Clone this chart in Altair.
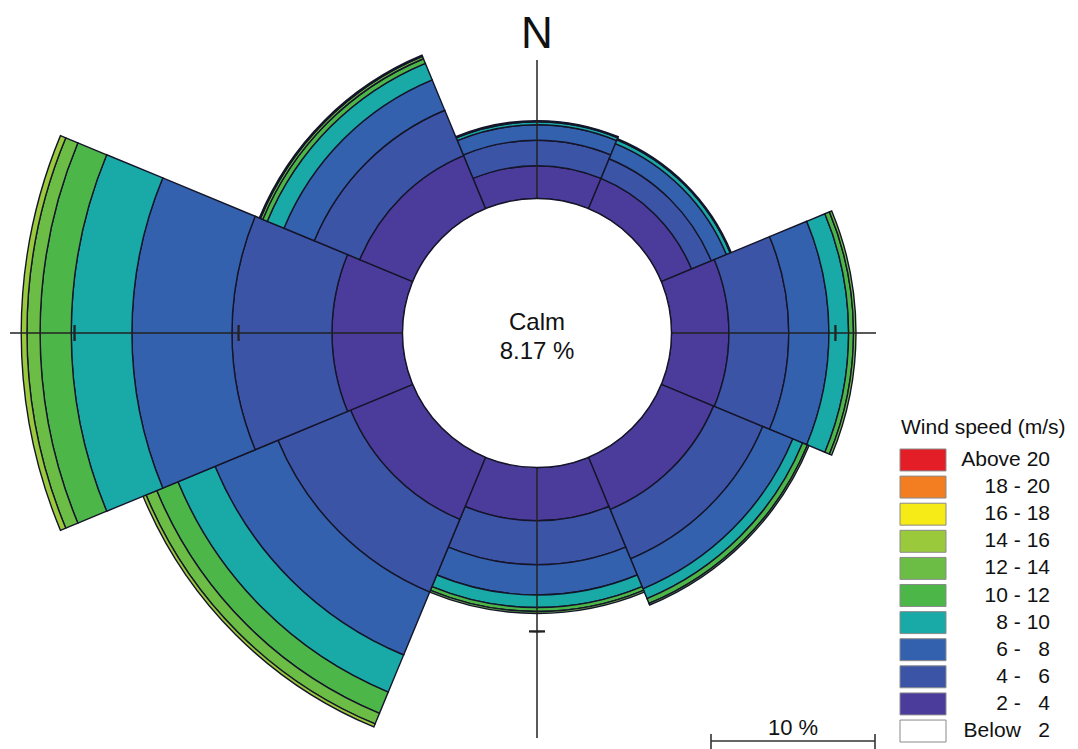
import altair as alt
import pandas as pd
import numpy as np

# ---------------- data ----------------
directions = ["N", "NE", "E", "SE", "S", "SW", "W", "NW"]
dir_angles = [0, 45, 90, 135, 180, 225, 270, 315]

# frequency (%) of each wind-speed class per direction
freq_2_4 = [2.00, 2.00, 3.50, 3.45, 3.25, 4.10, 4.30, 3.50]
freq_4_6 = [1.55, 1.30, 3.65, 3.25, 2.68, 4.80, 6.10, 3.00]
freq_6_8 = [0.95, 1.00, 2.45, 1.98, 1.84, 4.15, 6.10, 2.00]
freq_8_10 = [0.18, 0.25, 1.20, 0.65, 0.77, 2.45, 3.70, 1.10]
freq_10_12 = [0.07, 0.07, 0.30, 0.32, 0.24, 1.40, 1.90, 0.30]
freq_12_14 = [0.00, 0.00, 0.15, 0.10, 0.12, 0.70, 0.80, 0.15]
freq_14_16 = [0.00, 0.00, 0.00, 0.00, 0.00, 0.20, 0.35, 0.08]
freq_16_18 = [0, 0, 0, 0, 0, 0, 0, 0]
freq_18_20 = [0, 0, 0, 0, 0, 0, 0, 0]
freq_above_20 = [0, 0, 0, 0, 0, 0, 0, 0]
calm_pct = 8.17

classes = ["Above 20", "18 - 20", "16 - 18", "14 - 16", "12 - 14", "10 - 12",
           "8 - 10", "6 - 8", "4 - 6", "2 - 4", "Below 2"]
class_labels = ["Above 20", "18 - 20", "16 - 18", "14 - 16", "12 - 14", "10 - 12",
                "8 - 10", "6 -\u00a0\u00a0\u00a08", "4 -\u00a0\u00a0\u00a06",
                "2 -\u00a0\u00a0\u00a04", "Below\u00a0\u00a0\u00a02"]
class_colors = ["#E41E26", "#F37E21", "#F6EB16", "#9ACA3C", "#6BBD45", "#4CB748",
                "#19A9A6", "#3461AE", "#3B54A6", "#4B3C9C", "#FFFFFF"]

tick_dirs = [270, 270, 90, 180]
tick_pcts = [10, 20, 10, 10]

# ---------------- layout constants ----------------
FONT = "Liberation Sans"
CX, CY = 529, 325          # rose centre (plot coords)
R0, K = 134.5, 16.4        # calm radius (px), px per %
EDGE = "#15152a"

bands = [("2 - 4", freq_2_4), ("4 - 6", freq_4_6), ("6 - 8", freq_6_8),
         ("8 - 10", freq_8_10), ("10 - 12", freq_10_12), ("12 - 14", freq_12_14),
         ("14 - 16", freq_14_16), ("16 - 18", freq_16_18), ("18 - 20", freq_18_20),
         ("Above 20", freq_above_20)]

rows = []
for i, (d, a) in enumerate(zip(directions, dir_angles)):
    cum = 0.0
    for cls, vals in bands:
        v = vals[i]
        if v <= 0:
            continue
        rows.append(dict(dir=d, t1=a - 22.5, t2=a + 22.5, r1=cum, r2=cum + v, cls=cls))
        cum += v
df = pd.DataFrame(rows)

trows = []
for a, p in zip(tick_dirs, tick_pcts):
    half = np.degrees(8.0 / (R0 + K * p))
    trows.append(dict(t1=a - half, t2=a + half, r1=p - 0.07, r2=p + 0.07))
tdf = pd.DataFrame(trows)

one = pd.DataFrame({"a": [0]})

theta_scale = alt.Scale(type="linear", domain=[0, 360], range=[0, 2 * np.pi])
r_scale = alt.Scale(type="linear", domain=[0, 25], range=[R0, R0 + 25 * K])
color_scale = alt.Scale(domain=classes, range=class_colors)
yleg_scale = alt.Scale(type="band", domain=classes, range=[441, 734],
                       paddingInner=0.19, paddingOuter=0)

sectors = alt.Chart(df).mark_arc(stroke=EDGE, strokeWidth=1.4).encode(
    x=alt.value(CX), y=alt.value(CY),
    theta=alt.Theta("t1:Q", scale=theta_scale, stack=None),
    theta2="t2:Q",
    radius=alt.Radius("r2:Q", scale=r_scale),
    radius2="r1:Q",
    color=alt.Color("cls:N", scale=color_scale, legend=None),
)

hline = alt.Chart(one).mark_rule(color="#222", strokeWidth=1.5).encode(
    x=alt.value(2), x2=alt.value(868), y=alt.value(CY))
vline = alt.Chart(one).mark_rule(color="#222", strokeWidth=1.5).encode(
    x=alt.value(CX), y=alt.value(52), y2=alt.value(730))

ticks = alt.Chart(tdf).mark_arc(color="#222").encode(
    x=alt.value(CX), y=alt.value(CY),
    theta=alt.Theta("t1:Q", scale=theta_scale, stack=None),
    theta2="t2:Q",
    radius=alt.Radius("r2:Q", scale=r_scale),
    radius2="r1:Q",
)

calm = alt.Chart(one).mark_arc(fill="white", stroke=EDGE, strokeWidth=1.4).encode(
    x=alt.value(CX), y=alt.value(CY),
    theta=alt.value(0), theta2=alt.value(2 * np.pi),
    radius=alt.value(R0), radius2=alt.value(0),
)

calm_t1 = alt.Chart(one).mark_text(text="Calm", font=FONT, fontSize=24, color="#111",
                                   baseline="middle").encode(
    x=alt.value(CX), y=alt.value(CY - 10))
calm_t2 = alt.Chart(one).mark_text(text=f"{calm_pct:.2f} %", font=FONT, fontSize=24,
                                   color="#111", baseline="middle").encode(
    x=alt.value(CX), y=alt.value(CY + 19))
n_text = alt.Chart(one).mark_text(text="N", font=FONT, fontSize=44, color="#111",
                                  baseline="middle").encode(
    x=alt.value(CX), y=alt.value(27))

leg_df = pd.DataFrame({"cls": classes, "label": class_labels})
leg_rect = alt.Chart(leg_df).mark_rect(stroke="#8a8a8a", strokeWidth=1).encode(
    x=alt.value(892), x2=alt.value(938),
    y=alt.Y("cls:N", scale=yleg_scale, axis=None),
    color=alt.Color("cls:N", scale=color_scale, legend=None),
)
leg_text = alt.Chart(leg_df).mark_text(align="right", baseline="middle", font=FONT,
                                       fontSize=21, color="#111").encode(
    x=alt.value(1042),
    y=alt.Y("cls:N", scale=yleg_scale, axis=None),
    text="label:N",
)
leg_title = alt.Chart(one).mark_text(text="Wind speed (m/s)", align="left",
                                     baseline="alphabetic", font=FONT, fontSize=21,
                                     color="#111").encode(
    x=alt.value(893), y=alt.value(426))

SB_X0 = 703
SB_X1 = SB_X0 + 10 * K
sb_line = alt.Chart(one).mark_rule(color="#333", strokeWidth=1.6).encode(
    x=alt.value(SB_X0), x2=alt.value(SB_X1), y=alt.value(733))
sb_l = alt.Chart(one).mark_rule(color="#333", strokeWidth=1.6).encode(
    x=alt.value(SB_X0), y=alt.value(726), y2=alt.value(741))
sb_r = alt.Chart(one).mark_rule(color="#333", strokeWidth=1.6).encode(
    x=alt.value(SB_X1), y=alt.value(726), y2=alt.value(741))
sb_text = alt.Chart(one).mark_text(text="10 %", font=FONT, fontSize=22, color="#111",
                                   baseline="alphabetic").encode(
    x=alt.value((SB_X0 + SB_X1) / 2), y=alt.value(727))

chart = alt.layer(
    sectors, hline, vline, ticks, calm, calm_t1, calm_t2, n_text,
    leg_rect, leg_text, leg_title, sb_line, sb_l, sb_r, sb_text,
).properties(
    width=1062, height=741, padding=0,
    autosize=alt.AutoSizeParams(type="none"),
).configure_view(stroke=None)

chart.save("out.html", embed_options={"renderer": "svg", "actions": False})
